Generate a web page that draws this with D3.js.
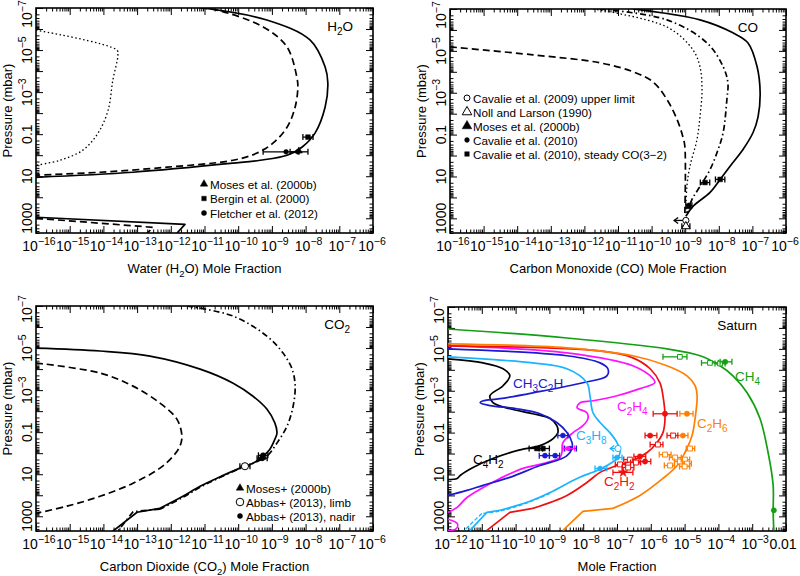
<!DOCTYPE html>
<html><head><meta charset="utf-8">
<script src="https://cdn.jsdelivr.net/npm/d3@7"></script>
<style>
body{margin:0;background:#fff}
svg{display:block;font-family:"Liberation Sans",Arial,Helvetica,sans-serif}
</style>
</head><body>
<script>
// ---------- DATA (log10 mole fraction, log10 pressure in mbar) ----------
// H2O panel
const h2oSolid = [[-11.05,-7],[-9.15,-6.43],[-7.87,-5.48],[-7.42,-4.19],[-7.34,-3.43],[-7.42,-2.29],[-7.72,-1.05],[-8.11,-0.38],[-8.55,0],[-9.35,0.24],[-10.15,0.38],[-13.12,0.81],[-16,1.05]];
const h2oSolidDeep = [[-16,2.95],[-11.58,3.29],[-11.82,3.71]];
const h2oDashed = [[-11.13,-7],[-10.63,-6.9],[-9.26,-6.1],[-8.55,-5.14],[-8.26,-3.71],[-8.23,-3.24],[-8.31,-2.29],[-8.55,-1.33],[-8.97,-0.57],[-9.44,-0.1],[-10.15,0.24],[-12.11,0.57],[-14.1,0.81],[-16,0.95]];
const h2oDashedDeep = [[-16,3.0],[-12.53,3.43],[-12.7,3.71]];
const h2oDotted = [[-16,-5.95],[-13.6,-5.0],[-13.57,-4.76],[-13.72,-3.57],[-13.86,-2.14],[-14.16,-1.05],[-14.61,-0.24],[-15.29,0.24],[-16,0.48]];
const h2oMoses = [[-8.2,-0.2]];
const h2oBergin = [[-7.93,-0.86,-8.08,-7.78]];
const h2oFletcher = [[-8.58,-0.16,-9.26,-8.2],[-8.23,-0.16,-8.46,-7.93]];
const h2oLegend = ["Moses et al. (2000b)","Bergin et al. (2000)","Fletcher et al. (2012)"];

// CO panel
const coSolid = [[-10.55,-7],[-8.56,-6.48],[-7.58,-5.86],[-7.13,-5.38],[-6.86,-4.24],[-6.77,-3.0],[-6.83,-1.86],[-6.98,-1.1],[-7.28,-0.29],[-7.67,0.52],[-7.96,1.14],[-8.26,1.76],[-8.77,2.43],[-8.98,2.9]];
const coDashDot = [[-11.54,-7],[-9.54,-6.48],[-8.35,-5.38],[-7.87,-4.24],[-7.73,-3.48],[-7.76,-2.67],[-7.87,-1.1],[-8.02,-0.29],[-8.26,0.67],[-8.56,1.48],[-8.8,2.1],[-8.95,2.75]];
const coDotted = [[-11.74,-7],[-9.54,-6.14],[-8.77,-5.05],[-8.56,-4.24],[-8.5,-3.14],[-8.56,-1.86],[-8.65,-0.76],[-8.86,0.52],[-8.95,1.48],[-8.98,2.75]];
const coDashed = [[-16,-5.19],[-13.53,-4.81],[-11.54,-4.43],[-10.55,-4.0],[-9.96,-3.52],[-9.54,-2.67],[-9.24,-1.71],[-9.07,-0.9],[-9.01,-0.43],[-9.01,2.75]];
const coCav2009 = [[-8.98,3.1,-9.33]];
const coNoll = [[-8.98,3.38,-9.1,-8.86]];
const coMoses = [[-8.9,2.45]];
const coCav2010 = [[-8.89,2.38,-8.98,-8.8]];
const coSteady = [[-7.96,1.14,-8.1,-7.82],[-8.41,1.29,-8.55,-8.27]];
const coLegend = ["Cavalie et al. (2009) upper limit","Noll and Larson (1990)","Moses et al. (2000b)","Cavalie et al. (2010)","Cavalie et al. (2010), steady CO(3\u22122)"];

// CO2 panel
const co2Solid = [[-16,-5.0],[-14.1,-4.86],[-12.62,-4.62],[-11.13,-4.0],[-10.15,-3.33],[-9.56,-2.71],[-9.15,-2.1],[-8.91,-1.43],[-8.85,-0.95],[-8.91,-0.67],[-9.06,-0.19],[-9.26,0.14],[-9.56,0.48],[-9.95,0.71],[-10.63,1.19],[-11.13,1.57],[-11.64,2.05],[-12.32,2.62]];
const co2SolidDeep = [[-12.32,2.62],[-13.0,2.81],[-13.72,3.71]];
const co2DashDot = [[-11.52,-7],[-10.15,-6.52],[-9.15,-5.57],[-8.67,-4.76],[-8.4,-4.0],[-8.31,-3.19],[-8.37,-2.24],[-8.55,-1.29],[-8.85,-0.48],[-9.15,0.14],[-9.56,0.48],[-9.95,0.73],[-10.63,1.22],[-11.13,1.62],[-11.64,2.1],[-12.32,2.66]];
const co2DashDotDeep = [[-12.32,2.66],[-13.12,2.78],[-13.57,3.71]];
const co2Dashed = [[-16,-4.29],[-14.1,-3.81],[-13.12,-3.19],[-12.32,-2.38],[-11.82,-1.62],[-11.67,-0.81],[-11.73,-0.33],[-11.93,0.14],[-12.32,0.71],[-13.12,1.43],[-14.1,2.05],[-15.08,2.52],[-16,2.86]];
const co2Moses = [[-9.29,0.2]];
const co2Limb = [[-9.8,0.62,-9.95,-9.65]];
const co2Nadir = [[-9.29,0.24,-9.44,-9.14],[-9.26,0.1,-9.4,-9.12]];
const co2Legend = ["Moses+ (2000b)","Abbas+ (2013), limb","Abbas+ (2013), nadir"];

// Saturn panel
const ch4 = [[-12,-5.95],[-8.48,-5.52],[-5.52,-5.0],[-4.54,-4.67],[-3.95,-4.19],[-3.57,-3.71],[-3.15,-2.9],[-2.77,-1.67],[-2.53,-0.05],[-2.38,1.52],[-2.38,2.81],[-2.36,3.67]];
const c2h6 = [[-12,-5.24],[-8.48,-5.05],[-6.53,-4.67],[-5.52,-4.19],[-4.93,-3.71],[-4.69,-3.24],[-4.63,-2.76],[-4.69,-1.67],[-4.78,-0.86],[-4.99,-0.05],[-5.22,0.57],[-5.64,1.19],[-6.32,2.0],[-7.12,2.62]];
const c2h6Deep = [[-7.12,2.62],[-8.01,2.76],[-8.6,3.67]];
const c2h2 = [[-12,-5.14],[-7.5,-4.9],[-6.53,-4.57],[-6.02,-4.05],[-5.73,-3.38],[-5.64,-2.76],[-5.58,-1.67],[-5.64,-1.0],[-5.82,-0.52],[-6.11,-0.05],[-6.53,0.33],[-7.0,0.57],[-7.5,0.9],[-7.89,1.38],[-8.48,2.0],[-9.49,2.62]];
const c2h2Deep = [[-9.49,2.62],[-10.17,2.81],[-10.85,3.67]];
const c3h8 = [[-12,-4.62],[-9.49,-4.33],[-8.48,-4.05],[-7.89,-3.38],[-7.8,-2.76],[-7.71,-1.95],[-7.5,-1.48],[-7.21,-1.0],[-7.0,-0.52],[-6.91,-0.05],[-7.0,0.24],[-7.3,0.57],[-7.59,0.81],[-8.18,1.19],[-8.98,1.86],[-9.66,2.33],[-10.46,2.71]];
const c3h8Deep = [[-10.46,2.71],[-10.85,2.81],[-11.35,3.67]];
const c3h8b = [[-8.98,1.9],[-9.7,2.38],[-10.5,2.76],[-11.0,2.86]];
const c3h8bDeep = [[-11.0,2.86],[-11.52,3.67]];
const c2h4 = [[-12,-5.14],[-8.48,-4.81],[-6.53,-4.19],[-5.93,-3.57],[-5.88,-3.38],[-6.32,-3.1],[-7.0,-2.76],[-7.71,-2.52],[-8.09,-2.43],[-8.18,-2.19],[-7.89,-1.95],[-7.86,-1.67],[-8.01,-1.33],[-8.3,-1.0],[-8.6,-0.52],[-8.63,-0.05],[-8.69,0.19],[-9.07,0.43],[-9.78,0.71],[-10.46,1.19],[-10.96,1.62],[-11.44,2.1],[-11.73,2.57],[-12,2.81]];
const c2h4Deep = [[-12,3.14],[-11.72,3.36],[-11.76,3.6],[-12,3.67]];
const ch3c2h = [[-12,-5.0],[-8.48,-4.67],[-7.5,-4.33],[-7.27,-4.05],[-7.3,-3.71],[-8.01,-3.38],[-9.49,-2.9],[-10.46,-2.62],[-10.96,-2.52],[-11.05,-2.43],[-10.76,-2.29],[-9.96,-2.14],[-9.28,-1.9],[-8.78,-1.48],[-8.48,-1.0],[-8.33,-0.52],[-8.33,-0.24],[-8.48,0.1],[-8.78,0.33],[-9.28,0.57],[-10.17,1.14],[-10.96,1.52],[-11.44,1.76],[-12,2.0]];
const c4h2 = [[-12,-4.52],[-10.96,-4.33],[-10.37,-4.05],[-10.17,-3.71],[-10.37,-3.24],[-10.76,-2.76],[-10.67,-2.43],[-10.17,-2.14],[-9.49,-1.9],[-8.98,-1.67],[-8.78,-1.33],[-8.75,-1.0],[-8.89,-0.71],[-9.28,-0.38],[-9.96,-0.14],[-10.67,0.24],[-11.26,0.67],[-11.64,1.05],[-11.73,1.19],[-12,1.24]];

const ch4ObsSq = [[-5.14,-4.62,-5.64,-4.93],[-4.25,-4.33,-4.5,-4.0],[-3.95,-4.3,-4.1,-3.8]];
const ch4ObsDot = [[-3.8,-4.38,-3.95,-3.6],[-2.36,2.71]];
const c2h6ObsDot = [[-4.93,-1.9,-5.14,-4.75],[-5.05,-0.86,-5.4,-4.9]];
const c2h6ObsOpen = [[-4.84,-0.24,-4.95,-4.7],[-5.58,0.05,-5.75,-5.4],[-5.28,0.19,-5.45,-5.1],[-5.14,0.38,-5.3,-5.0],[-4.99,0.29,-5.1,-4.85],[-5.43,0.57,-5.6,-5.3],[-4.93,0.48,-5.05,-4.8],[-5.0,0.62,-5.15,-4.85]];
const c2h2ObsDot = [[-5.58,-1.9,-5.93,-5.22],[-6.02,-0.86,-6.17,-5.82],[-6.32,0.14,-6.5,-6.15],[-6.17,0.38,-6.35,-6.0]];
const c2h2ObsOpen = [[-5.34,-0.86,-5.52,-5.2],[-5.79,-0.43,-6.02,-5.64],[-6.62,0.29,-6.8,-6.45],[-6.91,0.52,-7.05,-6.75],[-6.44,0.43,-6.6,-6.3],[-6.67,0.67,-6.85,-6.5]];
const c2h2ObsStar = [[-6.82,0.9,-7.12,-6.53]];
const c3h8ObsLim = [[-6.97,-0.24,-7.2]];
const c3h8Obs = [[-7.0,0.19,-7.12,-6.85],[-7.5,0.71,-7.65,-7.3]];
const ch3c2hObs = [[-8.6,-0.86,-8.75,-8.45],[-9.13,0.1,-9.3,-9.0],[-8.83,0.1,-9.0,-8.7],[-8.39,-0.24,-8.55,-8.2]];
const c4h2Obs = [[-9.37,-0.24,-9.6,-9.2],[-9.19,-0.24,-9.3,-9.0]];
const c2h4Obs = [[-8.45,-0.24,-8.6,-8.25]];

// tick-label exponents
const xTickExps = [-16,-15,-14,-13,-12,-11,-10,-9,-8,-7,-6];
const xTickExpsSat = [-12,-11,-10,-9,-8,-7,-6,-5,-4,-3,-2];
const yLabelExps = [-7,-5,-3,-1,1,3];

// ---------- DRAWING ----------
const svg = d3.select("body").append("svg").attr("width",800).attr("height",576);
const P = v => Math.pow(10, v);
const MINUS = "\u2212";
const COL = {ch4:"#12a012", c2h6:"#ff8000", c2h2:"#ee1010", c3h8:"#1ab4ff", c2h4:"#ff10ff", ch3c2h:"#1a1ad0", c4h2:"#000"};

function chem(sel, str, sub){
  let down = false;
  for (const ch of str){
    const isD = /[0-9]/.test(ch);
    const t = sel.append("tspan").text(ch);
    if (isD && !down){ t.attr("dy", 4).attr("font-size", sub); down = true; }
    else if (isD) { t.attr("font-size", sub); }
    else if (!isD && down){ t.attr("dy", -4); down = false; }
  }
}

function makePanel(cfg){
  const x = d3.scaleLog().domain([P(cfg.xlo), P(cfg.xhi)]).range([cfg.x0, cfg.x1]);
  const y = d3.scaleLog().domain([1e-7, P(3.7)]).range([cfg.y0, cfg.y1]);
  const g = svg.append("g");
  const clipId = "clip" + cfg.id;
  g.append("clipPath").attr("id", clipId).append("rect")
    .attr("x", cfg.x0).attr("y", cfg.y0).attr("width", cfg.x1-cfg.x0).attr("height", cfg.y1-cfg.y0);

  const xMaj = d3.range(cfg.xlo, cfg.xhi+1).map(P);
  const xMin = [];
  for (let e=cfg.xlo; e<cfg.xhi; e++) for (let m=2;m<10;m++) xMin.push(m*P(e));
  const yMaj = d3.range(-7, 4).map(P);
  const yMin = [];
  for (let e=-7; e<4; e++) for (let m=2;m<10;m++){ const v=m*P(e); if (v<=P(3.7)) yMin.push(v); }
  const addAxis = (axisFn, scale, vals, size, tr) => {
    const a = g.append("g").attr("transform", tr)
      .call(axisFn(scale).tickValues(vals).tickSize(size).tickFormat(()=>""));
    a.select(".domain").remove();
    a.selectAll("line").attr("stroke","#000").attr("stroke-width",1);
  };
  addAxis(d3.axisBottom, x, xMaj, -7, `translate(0,${cfg.y1})`);
  addAxis(d3.axisBottom, x, xMin, -3.5, `translate(0,${cfg.y1})`);
  addAxis(d3.axisTop, x, xMaj, -7, `translate(0,${cfg.y0})`);
  addAxis(d3.axisTop, x, xMin, -3.5, `translate(0,${cfg.y0})`);
  addAxis(d3.axisLeft, y, yMaj, -7, `translate(${cfg.x0},0)`);
  addAxis(d3.axisLeft, y, yMin, -3.5, `translate(${cfg.x0},0)`);
  addAxis(d3.axisRight, y, yMaj, -7, `translate(${cfg.x1},0)`);
  addAxis(d3.axisRight, y, yMin, -3.5, `translate(${cfg.x1},0)`);

  g.append("rect").attr("x",cfg.x0).attr("y",cfg.y0).attr("width",cfg.x1-cfg.x0).attr("height",cfg.y1-cfg.y0)
    .attr("fill","none").attr("stroke","#000").attr("stroke-width",1.6);

  cfg.xLabels.forEach(e => {
    let dx = 3;
    if (e === -2) dx = -3; else if (e === cfg.xhi) dx = -1;
    const t = g.append("text").attr("x", x(P(e)) + dx).attr("y", cfg.y1 + 18)
      .attr("text-anchor","middle").attr("font-size",14);
    if (e === -2) { t.text("0.01"); }
    else { t.append("tspan").text("10"); t.append("tspan").attr("dy",-6).attr("font-size",10.5).text(MINUS + Math.abs(e)); }
  });
  yLabelExps.forEach(e => {
    const yy = y(P(e)) + (e === -7 ? (cfg.y0 < 20 ? 6 : 3) : 0);
    const t = g.append("text").attr("transform", `translate(${cfg.x0-4},${yy}) rotate(-90)`)
      .attr("text-anchor","middle").attr("font-size",14);
    if (e === -1) t.text("0.1");
    else if (e === 1) t.text("10");
    else if (e === 3) t.text("1000");
    else { t.append("tspan").text("10"); t.append("tspan").attr("dy",-6).attr("font-size",10.5).text(MINUS + Math.abs(e)); }
  });
  const xt = g.append("text").attr("x", (cfg.x0+cfg.x1)/2).attr("y", cfg.y1 + 40)
    .attr("text-anchor","middle").attr("font-size",13);
  chem(xt, cfg.xTitle, 9.5);
  g.append("text").attr("transform", `translate(${cfg.x0-24},${(cfg.y0+cfg.y1)/2 - 10}) rotate(-90)`)
    .attr("text-anchor","middle").attr("font-size",13).text("Pressure (mbar)");
  const pl = g.append("text").attr("x", cfg.x1 - cfg.nameDx).attr("y", cfg.y0 + 23)
    .attr("text-anchor","end").attr("font-size",13.5);
  chem(pl, cfg.name, 10);

  const plot = g.append("g").attr("clip-path", `url(#${clipId})`);
  return {x, y, g, plot};
}

function curve(pn, data, color, dash, width, linear){
  const line = d3.line().x(d => pn.x(P(d[0]))).y(d => pn.y(P(d[1])))
    .curve(linear ? d3.curveLinear : d3.curveCatmullRom.alpha(0.5));
  pn.plot.append("path").datum(data).attr("d", line).attr("fill","none")
    .attr("stroke", color).attr("stroke-width", width || 1.7)
    .attr("stroke-dasharray", dash || null).attr("stroke-linejoin","round");
}

const SYM = {circle:d3.symbolCircle, square:d3.symbolSquare, triangle:d3.symbolTriangle, diamond:d3.symbolDiamond, star:d3.symbolStar};
function marks(pn, data, opt){
  const color = opt.color || "#000";
  data.forEach(d => {
    const px = pn.x(P(d[0])), py = pn.y(P(d[1]));
    if (opt.arrow && d.length > 2){
      const ax = pn.x(P(d[2]));
      pn.g.append("line").attr("x1",px).attr("y1",py).attr("x2",ax).attr("y2",py).attr("stroke",color).attr("stroke-width",1.3);
      pn.g.append("path").attr("d",`M${ax+4},${py-3}L${ax},${py}L${ax+4},${py+3}`).attr("fill","none").attr("stroke",color).attr("stroke-width",1.3);
    } else if (d.length > 3){
      const lo = pn.x(P(d[2])), hi = pn.x(P(d[3]));
      pn.g.append("line").attr("x1",lo).attr("y1",py).attr("x2",hi).attr("y2",py).attr("stroke",color).attr("stroke-width",1.3);
      [lo,hi].forEach(c => pn.g.append("line").attr("x1",c).attr("x2",c).attr("y1",py-3).attr("y2",py+3).attr("stroke",color).attr("stroke-width",1.3));
    }
    pn.g.append("path").attr("transform",`translate(${px},${py})`)
      .attr("d", d3.symbol().type(SYM[opt.shape]).size(opt.size || 22)())
      .attr("fill", opt.open ? "#fff" : color).attr("stroke", color).attr("stroke-width", opt.open ? 1 : 0.5);
  });
}

function legend(pn, items, shapes, sx, sy, dy){
  items.forEach((txt, i) => {
    const s = shapes[i];
    const cy = sy + i*dy;
    pn.g.append("path").attr("transform",`translate(${sx},${cy})`)
      .attr("d", d3.symbol().type(SYM[s.shape]).size(s.size)())
      .attr("fill", s.open ? "#fff" : "#000").attr("stroke","#000").attr("stroke-width", s.open ? 1 : 0.5);
    pn.g.append("text").attr("x", sx + 6).attr("y", cy + 4.5).attr("font-size", 11.7).text(txt);
  });
}

const DASH = "7,4", DOT = "1.5,2.5", DASHDOT = "6,3,1.5,3";

// ---- Panel 1: H2O
const p1 = makePanel({id:"h2o", x0:36, x1:373, y0:8, y1:233, xlo:-16, xhi:-6, xLabels:xTickExps,
  xTitle:"Water (H2O) Mole Fraction", name:"H2O", nameDx:20});
curve(p1, h2oDotted, "#000", DOT, 1.3);
curve(p1, h2oDashed, "#000", DASH);
curve(p1, h2oDashedDeep, "#000", DASH, null, true);
curve(p1, h2oSolid, "#000");
curve(p1, h2oSolidDeep, "#000", null, null, true);
marks(p1, h2oFletcher, {shape:"circle", size:18});
marks(p1, h2oBergin, {shape:"square", size:22});
marks(p1, h2oMoses, {shape:"triangle", size:22});
legend(p1, h2oLegend, [{shape:"triangle",size:24},{shape:"square",size:20},{shape:"circle",size:20}], 204, 184, 14.5);

// ---- Panel 2: CO
const p2 = makePanel({id:"co", x0:450, x1:786, y0:9, y1:233, xlo:-16, xhi:-6, xLabels:xTickExps,
  xTitle:"Carbon Monoxide (CO) Mole Fraction", name:"CO", nameDx:28});
curve(p2, coDotted, "#000", DOT, 1.3);
curve(p2, coDashDot, "#000", DASHDOT);
curve(p2, coDashed, "#000", DASH);
curve(p2, coSolid, "#000");
marks(p2, coSteady, {shape:"square", size:22});
marks(p2, coCav2010, {shape:"circle", size:18});
marks(p2, coMoses, {shape:"triangle", size:20});
marks(p2, coCav2009, {shape:"circle", size:30, open:true, arrow:true});
marks(p2, coNoll, {shape:"triangle", size:30, open:true});
legend(p2, coLegend, [{shape:"circle",size:28,open:true},{shape:"triangle",size:40,open:true},{shape:"triangle",size:40},{shape:"circle",size:18},{shape:"square",size:20}], 467, 98, 14);

// ---- Panel 3: CO2
const p3 = makePanel({id:"co2", x0:36, x1:373, y0:306, y1:531, xlo:-16, xhi:-6, xLabels:xTickExps,
  xTitle:"Carbon Dioxide (CO2) Mole Fraction", name:"CO2", nameDx:23});
curve(p3, co2Dashed, "#000", DASH);
curve(p3, co2DashDot, "#000", DASHDOT);
curve(p3, co2DashDotDeep, "#000", DASHDOT, null, true);
curve(p3, co2Solid, "#000");
curve(p3, co2SolidDeep, "#000", null, null, true);
marks(p3, co2Limb, {shape:"circle", size:40, open:true});
marks(p3, co2Nadir, {shape:"circle", size:22});
marks(p3, co2Moses, {shape:"triangle", size:24});
legend(p3, co2Legend, [{shape:"triangle",size:24},{shape:"circle",size:45,open:true},{shape:"circle",size:20}], 240, 488, 14);

// ---- Panel 4: Saturn
const p4 = makePanel({id:"sat", x0:448, x1:786, y0:307, y1:531, xlo:-12, xhi:-2, xLabels:xTickExpsSat,
  xTitle:"Mole Fraction", name:"Saturn", nameDx:29});
curve(p4, c2h4Deep, COL.c2h4, null, 1.6);
curve(p4, c4h2, COL.c4h2, null, 1.7);
curve(p4, c2h4, COL.c2h4, null, 1.7);
curve(p4, ch3c2h, COL.ch3c2h, null, 1.7);
curve(p4, c3h8b, COL.c3h8, "4,2", 1.3);
curve(p4, c3h8bDeep, COL.c3h8, "4,2", 1.3, true);
curve(p4, c3h8, COL.c3h8, null, 1.7);
curve(p4, c3h8Deep, COL.c3h8, null, 1.7, true);
curve(p4, c2h2, COL.c2h2, null, 1.7);
curve(p4, c2h2Deep, COL.c2h2, null, 1.7, true);
curve(p4, c2h6, COL.c2h6, null, 1.7);
curve(p4, c2h6Deep, COL.c2h6, null, 1.7, true);
curve(p4, ch4, COL.ch4, null, 1.7);
marks(p4, ch4ObsSq, {shape:"square", size:22, open:true, color:COL.ch4});
marks(p4, ch4ObsDot, {shape:"circle", size:22, color:COL.ch4});
marks(p4, c2h6ObsDot, {shape:"circle", size:22, color:COL.c2h6});
marks(p4, c2h6ObsOpen, {shape:"square", size:24, open:true, color:COL.c2h6});
marks(p4, c2h2ObsDot, {shape:"circle", size:22, color:COL.c2h2});
marks(p4, c2h2ObsOpen, {shape:"square", size:24, open:true, color:COL.c2h2});
marks(p4, c2h2ObsStar, {shape:"star", size:30, color:COL.c2h2});
marks(p4, c3h8ObsLim, {shape:"circle", size:30, open:true, arrow:true, color:COL.c3h8});
marks(p4, c3h8Obs, {shape:"circle", size:20, color:COL.c3h8});
marks(p4, ch3c2hObs, {shape:"circle", size:20, color:COL.ch3c2h});
marks(p4, c4h2Obs, {shape:"square", size:22, color:COL.c4h2});
marks(p4, c2h4Obs, {shape:"circle", size:16, color:COL.c2h4});

const satLabels = [
  {t:"CH4", x:735, y:381, c:COL.ch4},
  {t:"C2H6", x:697, y:428, c:COL.c2h6},
  {t:"C2H2", x:604, y:486, c:COL.c2h2},
  {t:"C3H8", x:576, y:440, c:COL.c3h8},
  {t:"C2H4", x:617, y:411, c:COL.c2h4},
  {t:"CH3C2H", x:513, y:388, c:COL.ch3c2h},
  {t:"C4H2", x:473, y:464, c:COL.c4h2}
];
satLabels.forEach(l => {
  const t = p4.g.append("text").attr("x", l.x).attr("y", l.y).attr("fill", l.c).attr("font-size", 13.5);
  chem(t, l.t, 10);
});
</script>
</body></html>
